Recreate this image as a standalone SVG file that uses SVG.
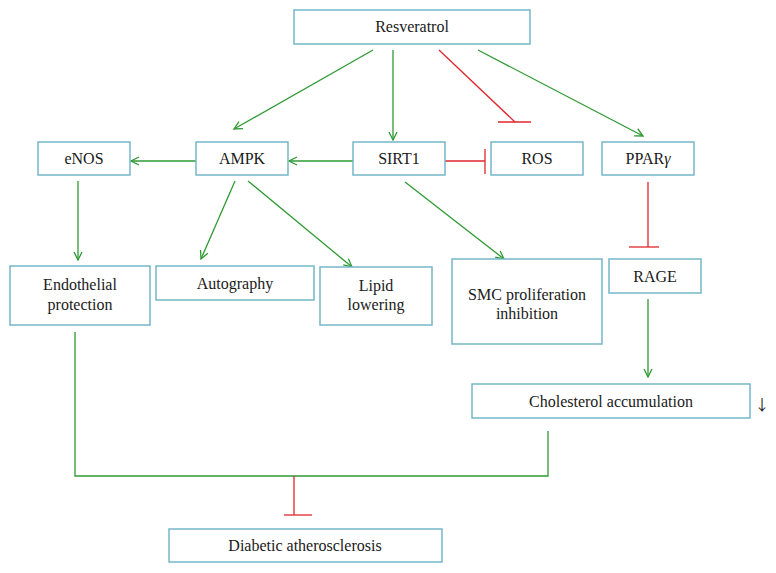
<svg xmlns="http://www.w3.org/2000/svg" width="776" height="573" viewBox="0 0 776 573">
<defs>
<style>
.box{fill:#fff;stroke:#74b6c9;stroke-width:1.5}
.t{font-family:"Liberation Serif","Times New Roman",serif;font-size:16px;fill:#1a1a1a;text-anchor:middle}
.g{stroke:#2f9a33;stroke-width:1.3;fill:none}
.r{stroke:#e0262b;stroke-width:1.3;fill:none}
</style>
<marker id="ah" viewBox="0 0 10 10" refX="9" refY="5" markerWidth="10" markerHeight="10" markerUnits="userSpaceOnUse" orient="auto">
<path d="M1,1 L9,5 L1,9" fill="none" stroke="#2f9a33" stroke-width="1.3"/>
</marker>
</defs>
<rect width="776" height="573" fill="#fff"/>
<g id="connectors">
<line class="g" x1="373" y1="50" x2="234" y2="129" marker-end="url(#ah)"/>
<line class="g" x1="393" y1="50" x2="393" y2="140" marker-end="url(#ah)"/>
<line class="r" x1="439" y1="50" x2="515" y2="122"/>
<line class="r" x1="498" y1="122" x2="531" y2="122"/>
<line class="g" x1="478" y1="50" x2="643" y2="136" marker-end="url(#ah)"/>
<line class="g" x1="353" y1="161" x2="289" y2="161" marker-end="url(#ah)"/>
<line class="g" x1="196" y1="161" x2="131" y2="161" marker-end="url(#ah)"/>
<line class="r" x1="445" y1="161" x2="485" y2="161"/>
<line class="r" x1="485" y1="149" x2="485" y2="174"/>
<line class="g" x1="78" y1="181" x2="78" y2="260" marker-end="url(#ah)"/>
<line class="g" x1="235" y1="181" x2="201" y2="259" marker-end="url(#ah)"/>
<line class="g" x1="248" y1="181" x2="352" y2="267" marker-end="url(#ah)"/>
<line class="g" x1="405" y1="182" x2="504" y2="259" marker-end="url(#ah)"/>
<line class="r" x1="648" y1="182" x2="648" y2="247"/>
<line class="r" x1="629" y1="247" x2="659" y2="247"/>
<line class="g" x1="648" y1="299" x2="648" y2="377" marker-end="url(#ah)"/>
<polyline class="g" stroke="#3aa64a" points="75,332 75,476 548,476 548,431"/>
<line class="r" x1="294" y1="476" x2="294" y2="515"/>
<line class="r" x1="284" y1="515" x2="312" y2="515"/>
</g>
<g id="resveratrol"><rect class="box" x="294" y="10" width="236" height="34"/><text class="t" x="412" y="32">Resveratrol</text></g>
<g id="enos"><rect class="box" x="38" y="142" width="92" height="33"/><text class="t" x="84" y="164">eNOS</text></g>
<g id="ampk"><rect class="box" x="196" y="142" width="92" height="33"/><text class="t" x="242" y="164">AMPK</text></g>
<g id="sirt1"><rect class="box" x="353" y="142" width="92" height="33"/><text class="t" x="399" y="164">SIRT1</text></g>
<g id="ros"><rect class="box" x="491" y="142" width="92" height="33"/><text class="t" x="537" y="164">ROS</text></g>
<g id="ppar"><rect class="box" x="602" y="142" width="92" height="33"/><text class="t" x="648" y="164">PPAR<tspan font-style="italic">γ</tspan></text></g>
<g id="endothelial"><rect class="box" x="10" y="266" width="140" height="59"/><text class="t" x="80" y="290">Endothelial</text><text class="t" x="80" y="310">protection</text></g>
<g id="autography"><rect class="box" x="156" y="266" width="158" height="34"/><text class="t" x="235" y="289">Autography</text></g>
<g id="lipid"><rect class="box" x="320" y="267" width="112" height="58"/><text class="t" x="376" y="291">Lipid</text><text class="t" x="376" y="310">lowering</text></g>
<g id="smc"><rect class="box" x="452" y="259" width="150" height="85"/><text class="t" x="527" y="300">SMC proliferation</text><text class="t" x="527" y="319">inhibition</text></g>
<g id="rage"><rect class="box" x="609" y="259" width="92" height="34"/><text class="t" x="655" y="282">RAGE</text></g>
<g id="cholesterol"><rect class="box" x="472" y="384" width="278" height="34"/><text class="t" x="611" y="407">Cholesterol accumulation</text><text x="762" y="410" font-family="Noto Sans CJK SC, sans-serif" font-size="15" text-anchor="middle" fill="#1a1a1a">↓</text></g>
<g id="diabetic"><rect class="box" x="169" y="529" width="273" height="33"/><text class="t" x="305" y="551">Diabetic atherosclerosis</text></g>
</svg>
